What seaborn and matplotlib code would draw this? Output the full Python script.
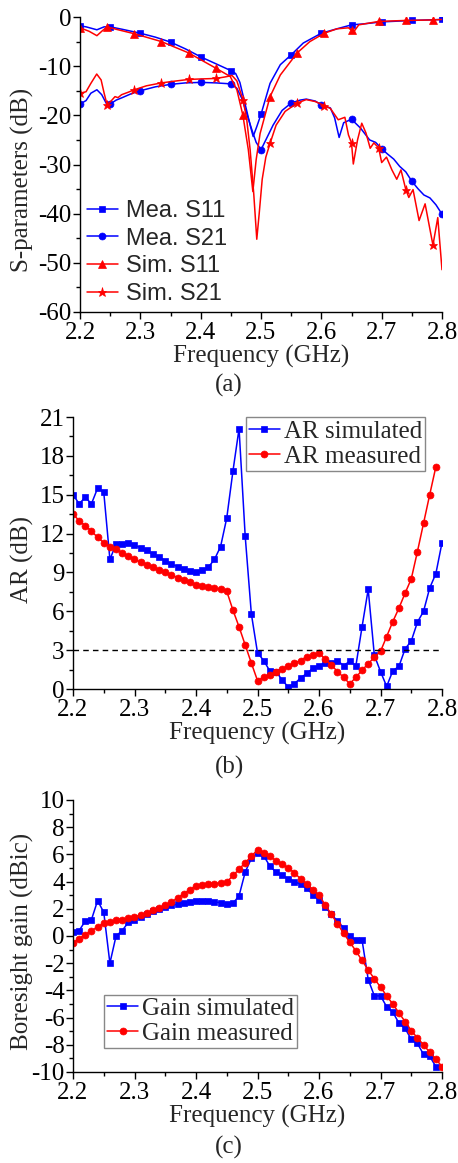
import numpy as np
import pandas as pd
import matplotlib
matplotlib.use("Agg")
import matplotlib.pyplot as plt
from matplotlib.ticker import MultipleLocator
import seaborn as sns

# ---------------- (a) S-parameters ----------------
mea_s11_f = [2.200, 2.210, 2.228, 2.240, 2.250, 2.270, 2.300, 2.325, 2.350, 2.375, 2.400, 2.425,
             2.450, 2.458, 2.465, 2.476, 2.482, 2.487, 2.493, 2.500, 2.515, 2.532, 2.550, 2.570,
             2.600, 2.626, 2.650, 2.670, 2.700, 2.750, 2.800]
mea_s11_v = [-1.8, -2.0, -2.6, -2.0, -2.0, -2.5, -3.3, -4.1, -5.1, -6.5, -8.1, -9.5,
             -10.9, -11.5, -13.3, -18.9, -22.0, -24.3, -22.3, -19.8, -13.5, -9.7, -7.7, -5.3,
             -3.3, -2.4, -1.6, -1.4, -1.0, -0.7, -0.5]

mea_s21_f = [2.200, 2.210, 2.218, 2.228, 2.236, 2.245, 2.250, 2.260, 2.270, 2.285, 2.300, 2.325,
             2.350, 2.375, 2.400, 2.425, 2.450, 2.460, 2.468, 2.476, 2.485, 2.492, 2.500, 2.508,
             2.520, 2.535, 2.550, 2.565, 2.575, 2.590, 2.600, 2.615, 2.622, 2.6295, 2.637, 2.650,
             2.665, 2.680, 2.690, 2.700, 2.710, 2.720, 2.730, 2.740, 2.750, 2.760, 2.770, 2.780,
             2.790, 2.800]
mea_s21_v = [-17.7, -17.0, -15.5, -14.8, -15.8, -17.9, -17.7, -16.9, -16.4, -15.6, -15.0, -14.2,
             -13.7, -13.4, -13.3, -13.4, -13.6, -14.5, -16.5, -19.5, -23.0, -25.5, -27.0, -25.0,
             -22.0, -19.0, -17.5, -16.9, -16.7, -17.1, -17.9, -18.5, -20.5, -24.5, -21.5, -20.8,
             -22.6, -25.0, -25.5, -26.8, -27.9, -28.9, -30.4, -31.5, -33.4, -34.9, -36.2, -36.8,
             -38.2, -40.1]

sim_s11_f = [2.200, 2.215, 2.228, 2.237, 2.245, 2.260, 2.290, 2.335, 2.380, 2.425, 2.449, 2.460,
             2.470, 2.479, 2.4865, 2.492, 2.4985, 2.515, 2.532, 2.560, 2.581, 2.605, 2.626, 2.645,
             2.650, 2.655, 2.662, 2.695, 2.740, 2.785, 2.800]
sim_s11_v = [-2.2, -2.9, -3.8, -2.8, -2.0, -2.5, -3.4, -5.0, -7.3, -10.4, -12.1, -14.8,
             -20.0, -27.0, -35.5, -29.0, -23.7, -16.2, -11.8, -7.3, -5.0, -3.3, -2.4, -2.2,
             -2.7, -2.8, -1.6, -0.9, -0.7, -0.6, -0.5]

sim_s21_f = [2.200, 2.210, 2.218, 2.2277, 2.235, 2.240, 2.245, 2.250, 2.258, 2.263, 2.269, 2.280,
             2.290, 2.310, 2.335, 2.360, 2.380, 2.400, 2.425, 2.440, 2.452, 2.460, 2.470, 2.476,
             2.482, 2.488, 2.493, 2.497, 2.502, 2.508, 2.515, 2.525, 2.540, 2.560, 2.575, 2.590,
             2.605, 2.615, 2.628, 2.639, 2.645, 2.650, 2.653, 2.660, 2.667, 2.674, 2.681, 2.687,
             2.695, 2.700, 2.708, 2.717, 2.725, 2.732, 2.740, 2.745, 2.752, 2.762, 2.772, 2.785,
             2.793, 2.800]
sim_s21_v = [-15.5, -15.2, -13.5, -11.6, -12.8, -15.5, -17.9, -17.3, -16.2, -16.4, -15.8, -15.3,
             -14.8, -14.0, -13.4, -13.0, -12.7, -12.6, -12.5, -12.2, -11.9, -13.0, -16.8, -20.5,
             -27.0, -36.0, -45.2, -40.0, -33.0, -28.5, -25.7, -22.0, -19.2, -17.5, -16.8, -17.2,
             -18.0, -18.6, -20.9, -20.4, -24.0, -25.6, -29.9, -25.0, -21.6, -23.6, -26.7, -25.6,
             -26.6, -29.6, -28.5, -31.1, -33.0, -31.1, -35.1, -36.7, -35.1, -41.4, -38.0, -46.4,
             -40.8, -51.4]

mea_marker_f = [2.20, 2.25, 2.30, 2.35, 2.40, 2.45, 2.50, 2.55, 2.60, 2.65, 2.70, 2.75, 2.80]
sim_marker_f = [2.200, 2.245, 2.290, 2.335, 2.380, 2.425, 2.470, 2.515, 2.560, 2.605, 2.650,
                2.695, 2.740, 2.785]

# ---------------- (b) axial ratio ----------------
ar_sim_f = [round(2.20 + 0.01 * i, 2) for i in range(61)]
ar_sim = [15.0, 14.3, 14.8, 14.3, 15.5, 15.2, 10.0, 11.2, 11.2, 11.3,
          11.1, 10.9, 10.7, 10.4, 10.2, 9.9, 9.65, 9.45, 9.25, 9.1,
          9.0, 9.15, 9.4, 10.0, 11.0, 13.2, 16.8, 20.1, 11.8, 5.8,
          2.8, 2.2, 1.4, 1.35, 0.7, 0.15, 0.4, 0.85, 1.2, 1.6,
          1.8, 2.0, 2.0, 2.2, 1.8, 2.15, 1.8, 4.8, 7.7, 2.6,
          1.35, 0.2, 1.4, 1.75, 3.1, 3.7, 5.15, 6.0, 7.8, 8.9,
          11.3]
ar_mea_f = ar_sim_f[:60]
ar_mea = [13.5, 13.0, 12.6, 12.2, 11.7, 11.3, 11.0, 10.8, 10.5, 10.25,
          10.0, 9.8, 9.6, 9.4, 9.2, 9.0, 8.8, 8.6, 8.45, 8.25,
          8.05, 7.95, 7.85, 7.8, 7.7, 7.55, 6.1, 4.8, 3.4, 2.0,
          0.65, 0.9, 1.1, 1.3, 1.55, 1.8, 2.0, 2.2, 2.5, 2.6,
          2.8, 2.3, 1.85, 1.35, 0.9, 0.4, 0.9, 1.45, 1.95, 2.45,
          2.9, 4.05, 5.2, 6.25, 7.4, 8.5, 10.6, 12.8, 15.0, 17.15]

# ---------------- (c) boresight gain ----------------
gain_sim_f = ar_sim_f[:60]
gain_sim = [0.33, 0.4, 1.1, 1.2, 2.6, 1.75, -2.0, 0.0, 0.4, 1.0,
            1.2, 1.4, 1.65, 1.85, 2.0, 2.15, 2.25, 2.35, 2.45, 2.5,
            2.55, 2.55, 2.55, 2.5, 2.45, 2.35, 2.4, 2.95, 4.7, 5.7,
            6.1, 5.9, 5.15, 4.7, 4.45, 4.2, 4.0, 3.8, 3.5, 3.05,
            2.65, 2.15, 1.6, 1.1, 0.6, 0.0, -0.3, -0.3, -3.2, -4.4,
            -4.4, -5.2, -5.6, -6.4, -6.8, -7.6, -7.9, -8.7, -8.85, -9.6]
gain_mea_f = ar_sim_f
gain_mea = [-0.5, -0.2, 0.1, 0.4, 0.65, 0.95, 1.05, 1.15, 1.2, 1.3,
            1.4, 1.55, 1.7, 1.9, 2.05, 2.25, 2.5, 2.8, 3.1, 3.4,
            3.7, 3.75, 3.8, 3.85, 3.9, 3.95, 4.45, 4.9, 5.4, 5.85,
            6.35, 6.1, 5.85, 5.55, 5.3, 5.0, 4.65, 4.2, 3.85, 3.4,
            3.0, 2.3, 1.6, 0.9, 0.2, -0.45, -1.1, -1.8, -2.5, -3.15,
            -3.75, -4.4, -5.0, -5.65, -6.3, -6.95, -7.5, -8.0, -8.55, -9.05,
            -9.6]

sns.set_theme(style="ticks")
plt.rcParams['font.family'] = ['Liberation Serif', 'DejaVu Serif']
plt.rcParams['axes.unicode_minus'] = False

BLUE = '#0000ff'
RED = '#ff0000'
FS = 18


def style_axes(ax, ymaj, ymin):
    for s in ('top', 'right'):
        ax.spines[s].set_visible(False)
    for s in ('left', 'bottom'):
        ax.spines[s].set_linewidth(1.0)
        ax.spines[s].set_color('black')
    ax.set_xlim(2.2, 2.8)
    ax.xaxis.set_major_locator(MultipleLocator(0.1))
    ax.xaxis.set_minor_locator(MultipleLocator(0.05))
    ax.yaxis.set_major_locator(MultipleLocator(ymaj))
    ax.yaxis.set_minor_locator(MultipleLocator(ymin))
    ax.xaxis.set_major_formatter(plt.FuncFormatter(lambda v, p: f"{v:.1f}"))
    ax.yaxis.set_major_formatter(plt.FuncFormatter(lambda v, p: f"{v:.0f}"))
    ax.tick_params(which='major', direction='out', length=5, width=1.0,
                   labelsize=FS, colors='black')
    ax.tick_params(axis='x', which='major', pad=2.5)
    ax.tick_params(axis='y', which='major', pad=1)
    ax.tick_params(which='minor', direction='out', length=3, width=1.0, colors='black')
    ax.set_xlabel('Frequency (GHz)', fontsize=FS, labelpad=0.5)
    ax.grid(False)


def draw(ax, f, v, color, marker, label, ms, marks=None):
    df = pd.DataFrame({'f': f, 'v': v})
    every = None
    if marks is not None:
        every = [i for i, x in enumerate(f) if np.any(np.isclose(x, marks))]
    sns.lineplot(data=df, x='f', y='v', ax=ax, color=color, marker=marker, markersize=ms,
                 markeredgecolor=color, markerfacecolor=color, markeredgewidth=0.5,
                 linewidth=1.1, sort=False, errorbar=None, label=label, markevery=every)


fig = plt.figure(figsize=(4.58, 11.63), dpi=100)
W, H = 458.0, 1163.0

# panel a
axa = fig.add_axes([80 / W, 1 - 312 / H, 362 / W, 295 / H])
draw(axa, mea_s11_f, mea_s11_v, BLUE, 's', 'Mea. S11', 5, mea_marker_f)
draw(axa, mea_s21_f, mea_s21_v, BLUE, 'o', 'Mea. S21', 5, mea_marker_f)
draw(axa, sim_s11_f, sim_s11_v, RED, '^', 'Sim. S11', 5.5, sim_marker_f)
draw(axa, sim_s21_f, sim_s21_v, RED, '*', 'Sim. S21', 6.5, sim_marker_f)
axa.set_ylim(-60, 0)
style_axes(axa, 10, 5)
axa.set_ylabel('S-parameters (dB)', fontsize=FS)
axa.yaxis.set_label_coords(-0.128, 0.447)
axa.legend(loc='lower left', bbox_to_anchor=(0.0, 0.0), frameon=False,
           prop={'family': 'Liberation Sans', 'size': 17}, handlelength=1.3,
           handletextpad=0.35, labelspacing=0.24, borderaxespad=0.1, borderpad=0.2)

# panel b
axb = fig.add_axes([73 / W, 1 - 689 / H, 369 / W, 272 / H])
draw(axb, ar_sim_f, ar_sim, BLUE, 's', 'AR simulated', 4.5)
draw(axb, ar_mea_f, ar_mea, RED, 'o', 'AR measured', 5)
axb.axhline(3, color='black', linestyle='--', linewidth=1.0, dashes=(4, 3))
axb.set_ylim(0, 21)
style_axes(axb, 3, 1.5)
axb.set_ylabel('AR (dB)', fontsize=FS)
axb.yaxis.set_label_coords(-0.105, 0.476)
axb.legend(loc='upper right', bbox_to_anchor=(0.954, 1.0), fancybox=False, framealpha=1,
           edgecolor='#888888', fontsize=FS, handlelength=1.25, handletextpad=0.15,
           labelspacing=0.1, borderaxespad=0, borderpad=0.12)

# panel c
axc = fig.add_axes([73 / W, 1 - 1072 / H, 369 / W, 272 / H])
draw(axc, gain_sim_f, gain_sim, BLUE, 's', 'Gain simulated', 4.5)
draw(axc, gain_mea_f, gain_mea, RED, 'o', 'Gain measured', 5)
axc.set_ylim(-10, 10)
style_axes(axc, 2, 1)
axc.set_ylabel('Boresight gain (dBic)', fontsize=FS)
axc.yaxis.set_label_coords(-0.105, 0.48)
axc.legend(loc='lower left', bbox_to_anchor=(0.084, 0.088), fancybox=False, framealpha=1,
           edgecolor='#888888', fontsize=FS, handlelength=1.25, handletextpad=0.15,
           labelspacing=0.1, borderaxespad=0, borderpad=0.12)

fig.text(0.5, 1 - 385 / H, '(a)', ha='center', va='center', fontsize=FS)
fig.text(0.5, 1 - 767 / H, '(b)', ha='center', va='center', fontsize=FS)
fig.text(0.5, 1 - 1147 / H, '(c)', ha='center', va='center', fontsize=FS)

fig.savefig('out.png', dpi=100)
